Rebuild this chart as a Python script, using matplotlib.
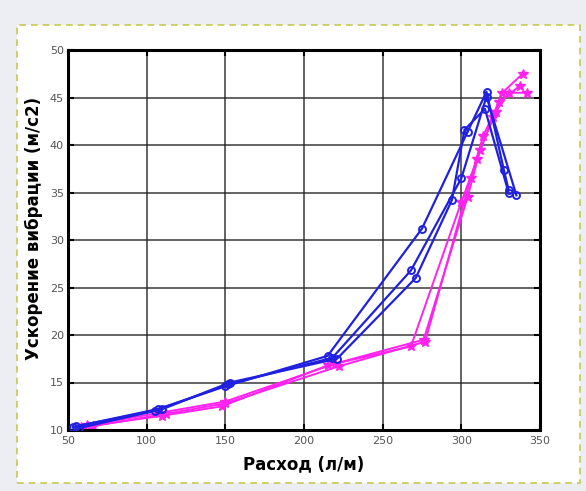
import matplotlib
matplotlib.use("Agg")
import matplotlib.pyplot as plt
from matplotlib.patches import Rectangle

# Blue series (circles)
b1_x = [53, 107, 150, 215, 275, 304, 316, 327, 330]
b1_y = [10.3, 12.2, 14.6, 17.8, 31.2, 41.4, 45.6, 37.4, 35.3]
b2_x = [55, 105, 152, 218, 268, 300, 316, 335]
b2_y = [10.4, 12.0, 14.8, 17.6, 26.8, 36.5, 45.1, 34.7]
b3_x = [57, 110, 153, 221, 271, 294, 302, 315, 330]
b3_y = [10.2, 12.2, 15.0, 17.5, 26.0, 34.2, 41.6, 43.8, 35.0]

# Magenta series (stars)
m1_x = [58, 110, 148, 215, 268, 300, 310, 320, 326, 339]
m1_y = [10.3, 11.5, 12.5, 16.8, 18.8, 34.0, 38.5, 43.0, 45.5, 47.5]
m2_x = [62, 108, 150, 220, 276, 304, 312, 322, 330, 342]
m2_y = [10.5, 11.8, 13.0, 17.0, 19.5, 34.5, 39.5, 43.5, 45.5, 45.5]
m3_x = [66, 112, 150, 222, 277, 306, 314, 324, 337]
m3_y = [10.4, 11.7, 12.8, 16.7, 19.3, 36.5, 41.0, 44.5, 46.2]

x_ticks = [50, 100, 150, 200, 250, 300, 350]
y_ticks = [10, 15, 20, 25, 30, 35, 40, 45, 50]
x_label = "Расход (л/м)"
y_label = "Ускорение вибрации (м/с2)"

fig = plt.figure(figsize=(5.86, 4.91), dpi=100)
fig.patch.set_facecolor("#ededf4")
# inner white panel with dashed yellow border
fig.patches.append(Rectangle((17/586, 1-483/491), 563/586, 458/491,
                             transform=fig.transFigure, facecolor="white",
                             edgecolor="#c8c850", linestyle=(0, (4, 3)),
                             linewidth=1.2, zorder=-10))

ax = fig.add_axes([68/586, 1-430/491, 472/586, 380/491])
ax.set_facecolor("white")

for xs, ys in [(b1_x, b1_y), (b2_x, b2_y), (b3_x, b3_y)]:
    ax.plot(xs, ys, color="#2020e0", lw=1.6, marker="o", ms=5,
            mfc="none", mec="#2020e0", mew=1.4, zorder=3)
for xs, ys in [(m1_x, m1_y), (m2_x, m2_y), (m3_x, m3_y)]:
    ax.plot(xs, ys, color="#ff22ee", lw=1.4, marker="*", ms=7,
            mfc="#ff22ee", mec="#ff22ee", zorder=2)

ax.set_xlim(50, 350)
ax.set_ylim(10, 50)
ax.set_xticks(x_ticks)
ax.set_yticks(y_ticks)
ax.grid(True, color="#222222", lw=1.4, alpha=0.7)
ax.set_axisbelow(True)
for s in ax.spines.values():
    s.set_linewidth(2.2)
    s.set_color("black")
ax.tick_params(direction="in", length=4, width=1.5, top=True, right=True,
               labelsize=8, labelcolor="#555555", pad=4)
ax.tick_params(axis="y", pad=3)

ax.set_xlabel(x_label, fontsize=12, fontweight="bold", labelpad=7)
ax.set_ylabel(y_label, fontsize=12, fontweight="bold", labelpad=6)
ax.yaxis.set_label_coords(-0.053, 0.53)

fig.savefig("out.png", dpi=100, facecolor=fig.get_facecolor())
